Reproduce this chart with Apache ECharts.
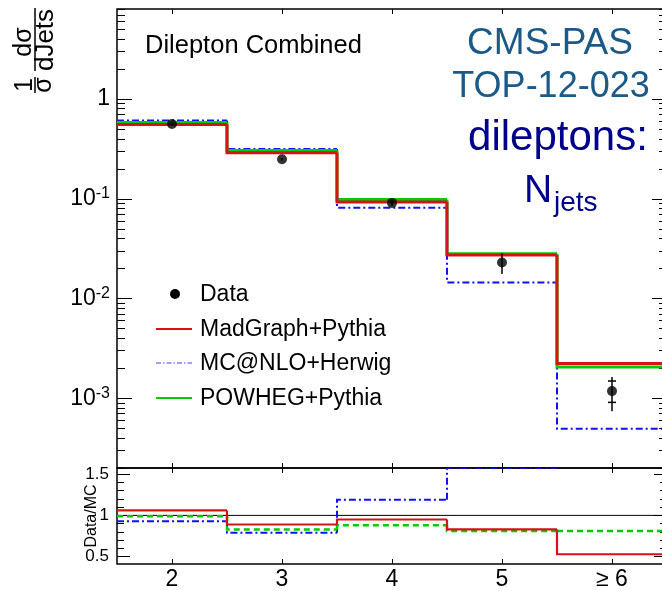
<!DOCTYPE html>
<html><head><meta charset="utf-8">
<script src="https://cdn.jsdelivr.net/npm/echarts@6/dist/echarts.min.js"></script>
<style>html,body{margin:0;padding:0;background:#fff}#c{width:662px;height:591px}</style>
</head><body><div id="c"></div>
<script>
// ---------- data ----------
const categories = ['2', '3', '4', '5', '≥ 6'];
const dataVals   = [0.563, 0.249, 0.091, 0.0230, 0.00118];
const dataErrLo  = [0.548, 0.242, 0.085, 0.0176, 0.00074];
const dataErrHi  = [0.578, 0.257, 0.098, 0.0283, 0.00163];
const dataStatLo = [null, null, null, null, 0.00091];
const dataStatHi = [null, null, null, null, 0.00149];
const madgraph   = [0.555, 0.290, 0.0927, 0.0274, 0.00223];
const mcatnlo    = [0.610, 0.315, 0.0812, 0.0145, 0.000495];
const powheg     = [0.582, 0.305, 0.0984, 0.0282, 0.00206];
const ratioMadgraph = [1.06, 0.89, 0.95, 0.83, 0.53];
const ratioMcatnlo  = [0.93, 0.79, 1.19, 1.575, 2.38];
const ratioPowheg   = [0.99, 0.83, 0.88, 0.81, 0.81];
const logMajorTicks = [0.001, 0.01, 0.1, 1];
const ratioMajorTicks = [0.5, 1, 1.5];
const ratioMinorTicks = [0.6, 0.7, 0.8, 0.9, 1.1, 1.2, 1.3, 1.4];
const legendNames = ['Data', 'MadGraph+Pythia', 'MC@NLO+Herwig', 'POWHEG+Pythia'];

// minor log ticks 2..9 x decade
const logMinorTicks = [];
[1e-4, 1e-3, 1e-2, 1e-1, 1].forEach(d => { for (let k = 2; k <= 9; k++) { const t = k * d; if (t >= 2e-4 && t <= 8) logMinorTicks.push(t); } });

// ---------- style ----------
const FONT = '"Liberation Sans", Arial, Helvetica, sans-serif';
const RED = '#d41414', BLUE = '#1010ff', GREEN = '#00cc00';
const styleRed = {stroke: RED, lineWidth: 3};
const styleGreen = {stroke: GREEN, lineWidth: 3};
const styleBlue = {stroke: BLUE, lineWidth: 2, lineDash: [7, 3, 2, 3]};
const styleRedR = {stroke: RED, lineWidth: 2.2};
const styleGreenR = {stroke: GREEN, lineWidth: 2.5, lineDash: [6, 4]};
const styleBlueR = {stroke: BLUE, lineWidth: 2, lineDash: [7, 3, 2, 3]};

function histRender(st) {
  return function (params, api) {
    const i = api.value(0);
    const c = api.coord([i, api.value(1)]);
    const p = api.coord([i, api.value(2)]);
    const bw = api.size([1, 0])[0];
    const x0 = c[0] - bw / 2, x1 = c[0] + bw / 2;
    return {type: 'polyline', shape: {points: [[x0, p[1]], [x0, c[1]], [x1, c[1]]]},
            style: Object.assign({fill: null}, st)};
  };
}
function histData(arr) { return arr.map((v, i) => [i, v, i > 0 ? arr[i - 1] : v]); }

function errRender(params, api) {
  const i = api.value(0);
  const a = api.coord([i, api.value(1)]), b = api.coord([i, api.value(2)]);
  return {type: 'line', shape: {x1: a[0], y1: a[1], x2: b[0], y2: b[1]}, style: {stroke: '#000', lineWidth: 1.5}};
}
function capRender(params, api) {
  const i = api.value(0);
  const a = api.coord([i, api.value(1)]), b = api.coord([i, api.value(2)]);
  return {type: 'group', children: [
    {type: 'line', shape: {x1: a[0] - 4, y1: a[1], x2: a[0] + 4, y2: a[1]}, style: {stroke: '#000', lineWidth: 1.5}},
    {type: 'line', shape: {x1: b[0] - 4, y1: b[1], x2: b[0] + 4, y2: b[1]}, style: {stroke: '#000', lineWidth: 1.5}}
  ]};
}
function refRender(params, api) {
  const c = api.coord([0, api.value(1)]);
  const cs = params.coordSys;
  return {type: 'line', shape: {x1: cs.x, y1: c[1], x2: cs.x + cs.width, y2: c[1]}, style: {stroke: '#000', lineWidth: 1}};
}

const G0 = {left: 117, top: 9, width: 550, height: 459};
const G1 = {left: 117, top: 468, width: 550, height: 96};

function xAx(grid, pos, labels) {
  return {type: 'category', gridIndex: grid, position: pos, data: categories, boundaryGap: true,
    axisLine: {show: false}, splitLine: {show: false},
    axisTick: {show: true, inside: true, alignWithLabel: true, length: 5, lineStyle: {color: '#000', width: 1}},
    axisLabel: labels ? {show: true, color: '#000', fontFamily: FONT, fontSize: 23, margin: 4} : {show: false}};
}
function logAx(pos, ticks, len, labels) {
  return {type: 'log', logBase: 10, gridIndex: 0, position: pos, min: 2e-4, max: 8,
    axisLine: {show: false}, splitLine: {show: false}, minorTick: {show: false},
    axisTick: {show: true, inside: true, length: len, customValues: ticks, lineStyle: {color: '#000', width: 1}},
    axisLabel: labels ? {show: true, customValues: ticks, margin: 7, color: '#000', fontFamily: FONT,
      formatter: function (v) { const e = Math.round(Math.log10(v)); return e === 0 ? '{b|1}' : '{b|10}{s|' + e + '}'; },
      rich: {b: {fontSize: 23, fontFamily: FONT, color: '#000', lineHeight: 26},
             s: {fontSize: 16, fontFamily: FONT, color: '#000', verticalAlign: 'top', lineHeight: 16}}}
      : {show: false}};
}
function ratioAx(pos, ticks, len, labels) {
  return {type: 'value', gridIndex: 1, position: pos, min: 0.412, max: 1.573,
    axisLine: {show: false}, splitLine: {show: false},
    axisTick: {show: true, inside: true, length: len, customValues: ticks, lineStyle: {color: '#000', width: 1}},
    axisLabel: labels ? {show: true, customValues: ticks, margin: 8, color: '#000', fontFamily: FONT, fontSize: 17}
      : {show: false}};
}

const option = {
  backgroundColor: '#fff',
  animation: false,
  grid: [Object.assign({show: true, borderColor: '#000', borderWidth: 1.5, backgroundColor: 'transparent', outerBoundsMode: 'none'}, G0),
         Object.assign({show: true, borderColor: '#000', borderWidth: 1.5, backgroundColor: 'transparent', outerBoundsMode: 'none'}, G1)],
  xAxis: [xAx(0, 'bottom', false), xAx(0, 'top', false), xAx(1, 'bottom', true), xAx(1, 'top', false)],
  yAxis: [logAx('left', logMajorTicks, 15, true), logAx('left', logMinorTicks, 8, false),
          logAx('right', logMajorTicks, 15, false), logAx('right', logMinorTicks, 8, false),
          ratioAx('left', ratioMajorTicks, 13, true), ratioAx('left', ratioMinorTicks, 7, false),
          ratioAx('right', ratioMajorTicks, 13, false), ratioAx('right', ratioMinorTicks, 7, false)],
  series: [
    {name: legendNames[2], type: 'custom', xAxisIndex: 0, yAxisIndex: 0, clip: true, renderItem: histRender(styleBlue), data: histData(mcatnlo)},
    {name: legendNames[3], type: 'custom', xAxisIndex: 0, yAxisIndex: 0, clip: true, renderItem: histRender(styleGreen), data: histData(powheg)},
    {name: legendNames[1], type: 'custom', xAxisIndex: 0, yAxisIndex: 0, clip: true, renderItem: histRender(styleRed), data: histData(madgraph)},
    {name: 'err', type: 'custom', xAxisIndex: 0, yAxisIndex: 0, clip: true, renderItem: errRender,
      data: dataVals.map((v, i) => [i, dataErrLo[i], dataErrHi[i]])},
    {name: 'stat', type: 'custom', xAxisIndex: 0, yAxisIndex: 0, clip: true, renderItem: capRender,
      data: dataStatLo.map((v, i) => [i, v, dataStatHi[i]]).filter(d => d[1] != null)},
    {name: legendNames[0], type: 'scatter', xAxisIndex: 0, yAxisIndex: 0, symbol: 'circle', symbolSize: 10,
      itemStyle: {color: '#000'}, data: dataVals.map((v, i) => [i, v])},
    {name: 'ref', type: 'custom', xAxisIndex: 2, yAxisIndex: 4, clip: true, renderItem: refRender, data: [[0, 1]]},
    {name: 'rB', type: 'custom', xAxisIndex: 2, yAxisIndex: 4, clip: true, renderItem: histRender(styleBlueR), data: histData(ratioMcatnlo)},
    {name: 'rG', type: 'custom', xAxisIndex: 2, yAxisIndex: 4, clip: true, renderItem: histRender(styleGreenR), data: histData(ratioPowheg)},
    {name: 'rR', type: 'custom', xAxisIndex: 2, yAxisIndex: 4, clip: true, renderItem: histRender(styleRedR), data: histData(ratioMadgraph)}
  ],
  graphic: [
    // y-axis title  1/σ dσ/dJets (rotated)
    {type: 'group', x: 35, y: 95, rotation: Math.PI / 2, children: [
      {type: 'text', x: 10, y: -10, style: {text: '1', font: '25px ' + FONT, fill: '#000', align: 'center', verticalAlign: 'middle'}},
      {type: 'line', shape: {x1: 2, y1: 0, x2: 18, y2: 0}, style: {stroke: '#000', lineWidth: 1.5}},
      {type: 'text', x: 10, y: 9, style: {text: 'σ', font: '25px ' + FONT, fill: '#000', align: 'center', verticalAlign: 'middle'}},
      {type: 'text', x: 53, y: -11, style: {text: 'dσ', font: '25px ' + FONT, fill: '#000', align: 'center', verticalAlign: 'middle'}},
      {type: 'line', shape: {x1: 24, y1: 0, x2: 87, y2: 0}, style: {stroke: '#000', lineWidth: 1.5}},
      {type: 'text', x: 55, y: 11, style: {text: 'dJets', font: '26px ' + FONT, fill: '#000', align: 'center', verticalAlign: 'middle'}}
    ]},
    {type: 'text', x: 92, y: 516, rotation: Math.PI / 2,
      style: {text: 'Data/MC', font: '16px ' + FONT, fill: '#000', align: 'center', verticalAlign: 'middle'}},
    {type: 'text', x: 145, y: 46, style: {text: 'Dilepton Combined', font: '25.5px ' + FONT, fill: '#000', align: 'left', verticalAlign: 'middle'}},
    {type: 'text', x: 550, y: 44, style: {text: 'CMS-PAS', font: '37px ' + FONT, fill: '#1b5a86', align: 'center', verticalAlign: 'middle'}},
    {type: 'text', x: 551, y: 87, style: {text: 'TOP-12-023', font: '36px ' + FONT, fill: '#1b5a86', align: 'center', verticalAlign: 'middle'}},
    {type: 'text', x: 558, y: 138, style: {text: 'dileptons:', font: '42px ' + FONT, fill: '#00008c', align: 'center', verticalAlign: 'middle'}},
    {type: 'text', x: 524, y: 191, style: {text: 'N', font: '39px ' + FONT, fill: '#00008c', align: 'left', verticalAlign: 'middle'}},
    {type: 'text', x: 554, y: 203, style: {text: 'jets', font: '28px ' + FONT, fill: '#00008c', align: 'left', verticalAlign: 'middle'}},
    // legend
    {type: 'circle', shape: {cx: 175, cy: 294, r: 5}, style: {fill: '#000'}},
    {type: 'text', x: 200, y: 295, style: {text: legendNames[0], font: '23px ' + FONT, fill: '#000', verticalAlign: 'middle'}},
    {type: 'line', shape: {x1: 156, y1: 329, x2: 192, y2: 329}, style: {stroke: RED, lineWidth: 2}},
    {type: 'text', x: 200, y: 330, style: {text: legendNames[1], font: '23px ' + FONT, fill: '#000', verticalAlign: 'middle'}},
    {type: 'line', shape: {x1: 156, y1: 363, x2: 192, y2: 363}, style: {stroke: '#4040ff', lineWidth: 1.2, lineDash: [5, 2, 1.5, 2]}},
    {type: 'text', x: 200, y: 364, style: {text: legendNames[2], font: '23px ' + FONT, fill: '#000', verticalAlign: 'middle'}},
    {type: 'line', shape: {x1: 156, y1: 398, x2: 192, y2: 398}, style: {stroke: GREEN, lineWidth: 2}},
    {type: 'text', x: 200, y: 399, style: {text: legendNames[3], font: '23px ' + FONT, fill: '#000', verticalAlign: 'middle'}}
  ]
};
const chart = echarts.init(document.getElementById('c'), null, {renderer: 'canvas'});
chart.setOption(option);
</script>
</body></html>
